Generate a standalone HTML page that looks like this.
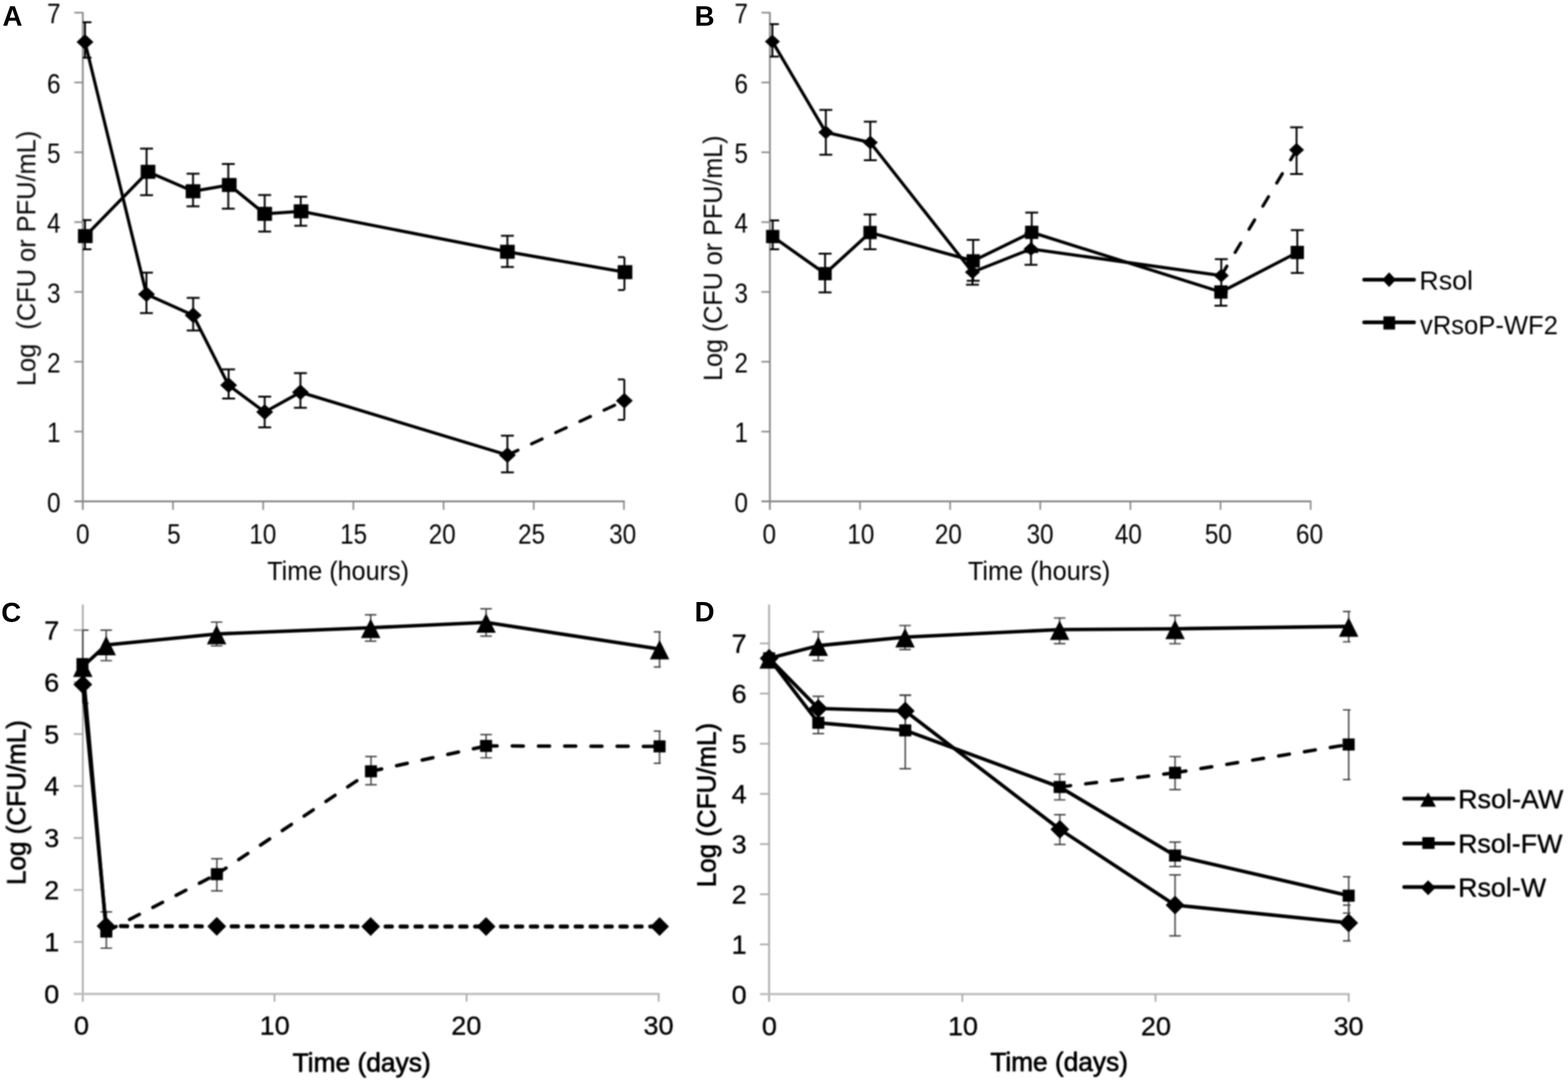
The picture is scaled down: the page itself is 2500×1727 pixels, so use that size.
<!DOCTYPE html>
<html><head><meta charset="utf-8"><title>Figure</title>
<style>
html,body{margin:0;padding:0;background:#fff;}
body{width:2500px;height:1727px;overflow:hidden;}
svg{display:block;font-family:"Liberation Sans",sans-serif;fill:#000;}
#fig{filter:blur(0.8px);}
</style></head><body>
<svg width="2500" height="1727" viewBox="0 0 2500 1727">
<rect x="0" y="0" width="2500" height="1727" fill="#fff"/>
<defs>
<clipPath id="cA"><rect x="132" y="0" width="863.5" height="820"/></clipPath>
<clipPath id="cB"><rect x="1227.5" y="0" width="862.5" height="820"/></clipPath>
<clipPath id="cC"><rect x="132" y="940" width="921.5" height="660"/></clipPath>
<clipPath id="cD"><rect x="1226.3" y="940" width="927" height="660"/></clipPath>
</defs>
<g id="fig">

<g>
<line x1="132.00" y1="19.00" x2="132.00" y2="813.00" stroke="#878787" stroke-width="2.80" />
<line x1="118.50" y1="799.50" x2="996.30" y2="799.50" stroke="#878787" stroke-width="2.80" />
<text transform="translate(96.50,816.80) scale(0.8800,1)" font-size="44.00" text-anchor="end">0</text>
<line x1="118.50" y1="688.17" x2="132.00" y2="688.17" stroke="#878787" stroke-width="2.50" />
<text transform="translate(96.50,705.47) scale(0.8800,1)" font-size="44.00" text-anchor="end">1</text>
<line x1="118.50" y1="576.84" x2="132.00" y2="576.84" stroke="#878787" stroke-width="2.50" />
<text transform="translate(96.50,594.14) scale(0.8800,1)" font-size="44.00" text-anchor="end">2</text>
<line x1="118.50" y1="465.51" x2="132.00" y2="465.51" stroke="#878787" stroke-width="2.50" />
<text transform="translate(96.50,482.81) scale(0.8800,1)" font-size="44.00" text-anchor="end">3</text>
<line x1="118.50" y1="354.18" x2="132.00" y2="354.18" stroke="#878787" stroke-width="2.50" />
<text transform="translate(96.50,371.48) scale(0.8800,1)" font-size="44.00" text-anchor="end">4</text>
<line x1="118.50" y1="242.85" x2="132.00" y2="242.85" stroke="#878787" stroke-width="2.50" />
<text transform="translate(96.50,260.15) scale(0.8800,1)" font-size="44.00" text-anchor="end">5</text>
<line x1="118.50" y1="131.52" x2="132.00" y2="131.52" stroke="#878787" stroke-width="2.50" />
<text transform="translate(96.50,148.82) scale(0.8800,1)" font-size="44.00" text-anchor="end">6</text>
<line x1="118.50" y1="20.19" x2="132.00" y2="20.19" stroke="#878787" stroke-width="2.50" />
<text transform="translate(96.50,37.49) scale(0.8800,1)" font-size="44.00" text-anchor="end">7</text>
<text transform="translate(132.00,866.80) scale(0.8800,1)" font-size="44.00" text-anchor="middle">0</text>
<line x1="275.80" y1="799.50" x2="275.80" y2="813.00" stroke="#878787" stroke-width="2.50" />
<text transform="translate(277.20,866.80) scale(0.8800,1)" font-size="44.00" text-anchor="middle">5</text>
<line x1="419.60" y1="799.50" x2="419.60" y2="813.00" stroke="#878787" stroke-width="2.50" />
<text transform="translate(419.00,866.80) scale(0.8800,1)" font-size="44.00" text-anchor="middle">10</text>
<line x1="563.40" y1="799.50" x2="563.40" y2="813.00" stroke="#878787" stroke-width="2.50" />
<text transform="translate(563.80,866.80) scale(0.8800,1)" font-size="44.00" text-anchor="middle">15</text>
<line x1="707.20" y1="799.50" x2="707.20" y2="813.00" stroke="#878787" stroke-width="2.50" />
<text transform="translate(705.00,866.80) scale(0.8800,1)" font-size="44.00" text-anchor="middle">20</text>
<line x1="851.00" y1="799.50" x2="851.00" y2="813.00" stroke="#878787" stroke-width="2.50" />
<text transform="translate(847.50,866.80) scale(0.8800,1)" font-size="44.00" text-anchor="middle">25</text>
<line x1="994.80" y1="799.50" x2="994.80" y2="813.00" stroke="#878787" stroke-width="2.50" />
<text transform="translate(992.70,866.80) scale(0.8800,1)" font-size="44.00" text-anchor="middle">30</text>
<text transform="translate(539.05,924.70) scale(0.9339,1)" font-size="43.00" text-anchor="middle">Time (hours)</text>
<text transform="translate(56.40,412.00) rotate(-90) scale(0.9421,1)" font-size="43.00" text-anchor="middle" style="white-space:pre">Log  (CFU or PFU/mL)</text>
</g>
<g>
<line x1="1227.50" y1="19.00" x2="1227.50" y2="813.00" stroke="#878787" stroke-width="2.80" />
<line x1="1214.00" y1="799.50" x2="2091.00" y2="799.50" stroke="#878787" stroke-width="2.80" />
<text transform="translate(1192.50,816.80) scale(0.8800,1)" font-size="44.00" text-anchor="end">0</text>
<line x1="1214.00" y1="688.17" x2="1227.50" y2="688.17" stroke="#878787" stroke-width="2.50" />
<text transform="translate(1192.50,705.47) scale(0.8800,1)" font-size="44.00" text-anchor="end">1</text>
<line x1="1214.00" y1="576.84" x2="1227.50" y2="576.84" stroke="#878787" stroke-width="2.50" />
<text transform="translate(1192.50,594.14) scale(0.8800,1)" font-size="44.00" text-anchor="end">2</text>
<line x1="1214.00" y1="465.51" x2="1227.50" y2="465.51" stroke="#878787" stroke-width="2.50" />
<text transform="translate(1192.50,482.81) scale(0.8800,1)" font-size="44.00" text-anchor="end">3</text>
<line x1="1214.00" y1="354.18" x2="1227.50" y2="354.18" stroke="#878787" stroke-width="2.50" />
<text transform="translate(1192.50,371.48) scale(0.8800,1)" font-size="44.00" text-anchor="end">4</text>
<line x1="1214.00" y1="242.85" x2="1227.50" y2="242.85" stroke="#878787" stroke-width="2.50" />
<text transform="translate(1192.50,260.15) scale(0.8800,1)" font-size="44.00" text-anchor="end">5</text>
<line x1="1214.00" y1="131.52" x2="1227.50" y2="131.52" stroke="#878787" stroke-width="2.50" />
<text transform="translate(1192.50,148.82) scale(0.8800,1)" font-size="44.00" text-anchor="end">6</text>
<line x1="1214.00" y1="20.19" x2="1227.50" y2="20.19" stroke="#878787" stroke-width="2.50" />
<text transform="translate(1192.50,37.49) scale(0.8800,1)" font-size="44.00" text-anchor="end">7</text>
<text transform="translate(1226.50,866.80) scale(0.8800,1)" font-size="44.00" text-anchor="middle">0</text>
<line x1="1371.20" y1="799.50" x2="1371.20" y2="813.00" stroke="#878787" stroke-width="2.50" />
<text transform="translate(1372.60,866.80) scale(0.8800,1)" font-size="44.00" text-anchor="middle">10</text>
<line x1="1514.90" y1="799.50" x2="1514.90" y2="813.00" stroke="#878787" stroke-width="2.50" />
<text transform="translate(1512.00,866.80) scale(0.8800,1)" font-size="44.00" text-anchor="middle">20</text>
<line x1="1658.60" y1="799.50" x2="1658.60" y2="813.00" stroke="#878787" stroke-width="2.50" />
<text transform="translate(1658.30,866.80) scale(0.8800,1)" font-size="44.00" text-anchor="middle">30</text>
<line x1="1802.30" y1="799.50" x2="1802.30" y2="813.00" stroke="#878787" stroke-width="2.50" />
<text transform="translate(1799.00,866.80) scale(0.8800,1)" font-size="44.00" text-anchor="middle">40</text>
<line x1="1946.00" y1="799.50" x2="1946.00" y2="813.00" stroke="#878787" stroke-width="2.50" />
<text transform="translate(1942.50,866.80) scale(0.8800,1)" font-size="44.00" text-anchor="middle">50</text>
<line x1="2089.70" y1="799.50" x2="2089.70" y2="813.00" stroke="#878787" stroke-width="2.50" />
<text transform="translate(2087.90,866.80) scale(0.8800,1)" font-size="44.00" text-anchor="middle">60</text>
<text transform="translate(1656.65,925.40) scale(0.9380,1)" font-size="43.00" text-anchor="middle">Time (hours)</text>
<text transform="translate(1151.10,411.75) rotate(-90) scale(0.9310,1)" font-size="43.00" text-anchor="middle">Log (CFU or PFU/mL)</text>
</g>
<g>
<path d="M135.50 35.50V92.00" fill="none" stroke="#000" stroke-width="3.00"/>
<path d="M125.20 35.50H145.80M125.20 92.00H145.80" fill="none" stroke="#000" stroke-width="3.00" clip-path="url(#cA)"/>
<path d="M233.50 434.70V499.30" fill="none" stroke="#000" stroke-width="3.00"/>
<path d="M223.20 434.70H243.80M223.20 499.30H243.80" fill="none" stroke="#000" stroke-width="3.00" clip-path="url(#cA)"/>
<path d="M308.00 475.00V526.90" fill="none" stroke="#000" stroke-width="3.00"/>
<path d="M297.70 475.00H318.30M297.70 526.90H318.30" fill="none" stroke="#000" stroke-width="3.00" clip-path="url(#cA)"/>
<path d="M364.50 588.90V635.40" fill="none" stroke="#000" stroke-width="3.00"/>
<path d="M354.20 588.90H374.80M354.20 635.40H374.80" fill="none" stroke="#000" stroke-width="3.00" clip-path="url(#cA)"/>
<path d="M422.00 632.60V681.40" fill="none" stroke="#000" stroke-width="3.00"/>
<path d="M411.70 632.60H432.30M411.70 681.40H432.30" fill="none" stroke="#000" stroke-width="3.00" clip-path="url(#cA)"/>
<path d="M479.00 595.10V650.30" fill="none" stroke="#000" stroke-width="3.00"/>
<path d="M468.70 595.10H489.30M468.70 650.30H489.30" fill="none" stroke="#000" stroke-width="3.00" clip-path="url(#cA)"/>
<path d="M809.00 694.80V753.30" fill="none" stroke="#000" stroke-width="3.00"/>
<path d="M798.70 694.80H819.30M798.70 753.30H819.30" fill="none" stroke="#000" stroke-width="3.00" clip-path="url(#cA)"/>
<path d="M995.40 605.00V669.50" fill="none" stroke="#000" stroke-width="3.00"/>
<path d="M985.10 605.00H1005.70M985.10 669.50H1005.70" fill="none" stroke="#000" stroke-width="3.00" clip-path="url(#cA)"/>
<path d="M135.50 351.00V397.50" fill="none" stroke="#000" stroke-width="3.00"/>
<path d="M125.20 351.00H145.80M125.20 397.50H145.80" fill="none" stroke="#000" stroke-width="3.00" clip-path="url(#cA)"/>
<path d="M233.70 237.00V311.20" fill="none" stroke="#000" stroke-width="3.00"/>
<path d="M223.40 237.00H244.00M223.40 311.20H244.00" fill="none" stroke="#000" stroke-width="3.00" clip-path="url(#cA)"/>
<path d="M307.80 277.10V329.00" fill="none" stroke="#000" stroke-width="3.00"/>
<path d="M297.50 277.10H318.10M297.50 329.00H318.10" fill="none" stroke="#000" stroke-width="3.00" clip-path="url(#cA)"/>
<path d="M364.00 261.60V332.70" fill="none" stroke="#000" stroke-width="3.00"/>
<path d="M353.70 261.60H374.30M353.70 332.70H374.30" fill="none" stroke="#000" stroke-width="3.00" clip-path="url(#cA)"/>
<path d="M422.00 311.00V369.30" fill="none" stroke="#000" stroke-width="3.00"/>
<path d="M411.70 311.00H432.30M411.70 369.30H432.30" fill="none" stroke="#000" stroke-width="3.00" clip-path="url(#cA)"/>
<path d="M479.50 313.80V360.00" fill="none" stroke="#000" stroke-width="3.00"/>
<path d="M469.20 313.80H489.80M469.20 360.00H489.80" fill="none" stroke="#000" stroke-width="3.00" clip-path="url(#cA)"/>
<path d="M809.00 376.00V425.80" fill="none" stroke="#000" stroke-width="3.00"/>
<path d="M798.70 376.00H819.30M798.70 425.80H819.30" fill="none" stroke="#000" stroke-width="3.00" clip-path="url(#cA)"/>
<path d="M995.60 410.00V462.40" fill="none" stroke="#000" stroke-width="3.00"/>
<path d="M985.30 410.00H1005.90M985.30 462.40H1005.90" fill="none" stroke="#000" stroke-width="3.00" clip-path="url(#cA)"/>
<polyline points="135.50,67.00 233.50,469.20 308.00,502.80 364.50,614.30 422.00,657.10 479.00,625.50 809.00,725.70" fill="none" stroke="#000" stroke-width="5.00" stroke-linejoin="round" stroke-linecap="butt"/>
<polyline points="809.00,725.70 995.40,639.00" fill="none" stroke="#000" stroke-width="5.00" stroke-linejoin="round" stroke-linecap="round" stroke-dasharray="18.5 24"/>
<polyline points="136.00,376.50 236.00,274.00 307.80,305.00 365.50,295.00 422.00,341.00 480.00,337.00 809.00,401.50 996.50,434.00" fill="none" stroke="#000" stroke-width="5.00" stroke-linejoin="round" stroke-linecap="butt"/>
<polygon points="135.50,54.50 149.00,67.00 135.50,79.50 122.00,67.00"/>
<polygon points="233.50,456.70 247.00,469.20 233.50,481.70 220.00,469.20"/>
<polygon points="308.00,490.30 321.50,502.80 308.00,515.30 294.50,502.80"/>
<polygon points="364.50,601.80 378.00,614.30 364.50,626.80 351.00,614.30"/>
<polygon points="422.00,644.60 435.50,657.10 422.00,669.60 408.50,657.10"/>
<polygon points="479.00,613.00 492.50,625.50 479.00,638.00 465.50,625.50"/>
<polygon points="809.00,713.20 822.50,725.70 809.00,738.20 795.50,725.70"/>
<polygon points="995.40,626.50 1008.90,639.00 995.40,651.50 981.90,639.00"/>
<rect x="124.30" y="365.30" width="23.40" height="22.40"/>
<rect x="224.30" y="262.80" width="23.40" height="22.40"/>
<rect x="296.10" y="293.80" width="23.40" height="22.40"/>
<rect x="353.80" y="283.80" width="23.40" height="22.40"/>
<rect x="410.30" y="329.80" width="23.40" height="22.40"/>
<rect x="468.30" y="325.80" width="23.40" height="22.40"/>
<rect x="797.30" y="390.30" width="23.40" height="22.40"/>
<rect x="984.80" y="422.80" width="23.40" height="22.40"/>
</g>
<g>
<path d="M1231.50 38.60V90.20" fill="none" stroke="#000" stroke-width="3.00"/>
<path d="M1221.20 38.60H1241.80M1221.20 90.20H1241.80" fill="none" stroke="#000" stroke-width="3.00" clip-path="url(#cB)"/>
<path d="M1316.70 175.20V246.80" fill="none" stroke="#000" stroke-width="3.00"/>
<path d="M1306.40 175.20H1327.00M1306.40 246.80H1327.00" fill="none" stroke="#000" stroke-width="3.00" clip-path="url(#cB)"/>
<path d="M1387.60 194.00V255.60" fill="none" stroke="#000" stroke-width="3.00"/>
<path d="M1377.30 194.00H1397.90M1377.30 255.60H1397.90" fill="none" stroke="#000" stroke-width="3.00" clip-path="url(#cB)"/>
<path d="M1550.50 414.00V454.00" fill="none" stroke="#000" stroke-width="3.00"/>
<path d="M1540.20 414.00H1560.80M1540.20 454.00H1560.80" fill="none" stroke="#000" stroke-width="3.00" clip-path="url(#cB)"/>
<path d="M1643.80 371.70V422.30" fill="none" stroke="#000" stroke-width="3.00"/>
<path d="M1633.50 371.70H1654.10M1633.50 422.30H1654.10" fill="none" stroke="#000" stroke-width="3.00" clip-path="url(#cB)"/>
<path d="M1947.20 413.20V465.60" fill="none" stroke="#000" stroke-width="3.00"/>
<path d="M1936.90 413.20H1957.50M1936.90 465.60H1957.50" fill="none" stroke="#000" stroke-width="3.00" clip-path="url(#cB)"/>
<path d="M2067.20 203.00V277.40" fill="none" stroke="#000" stroke-width="3.00"/>
<path d="M2056.90 203.00H2077.50M2056.90 277.40H2077.50" fill="none" stroke="#000" stroke-width="3.00" clip-path="url(#cB)"/>
<path d="M1232.00 351.60V397.50" fill="none" stroke="#000" stroke-width="3.00"/>
<path d="M1221.70 351.60H1242.30M1221.70 397.50H1242.30" fill="none" stroke="#000" stroke-width="3.00" clip-path="url(#cB)"/>
<path d="M1315.50 404.40V466.20" fill="none" stroke="#000" stroke-width="3.00"/>
<path d="M1305.20 404.40H1325.80M1305.20 466.20H1325.80" fill="none" stroke="#000" stroke-width="3.00" clip-path="url(#cB)"/>
<path d="M1387.20 342.00V397.60" fill="none" stroke="#000" stroke-width="3.00"/>
<path d="M1376.90 342.00H1397.50M1376.90 397.60H1397.50" fill="none" stroke="#000" stroke-width="3.00" clip-path="url(#cB)"/>
<path d="M1551.60 382.40V447.70" fill="none" stroke="#000" stroke-width="3.00"/>
<path d="M1541.30 382.40H1561.90M1541.30 447.70H1561.90" fill="none" stroke="#000" stroke-width="3.00" clip-path="url(#cB)"/>
<path d="M1645.00 339.00V402.00" fill="none" stroke="#000" stroke-width="3.00"/>
<path d="M1634.70 339.00H1655.30M1634.70 402.00H1655.30" fill="none" stroke="#000" stroke-width="3.00" clip-path="url(#cB)"/>
<path d="M1946.60 457.00V487.60" fill="none" stroke="#000" stroke-width="3.00"/>
<path d="M1936.30 457.00H1956.90M1936.30 487.60H1956.90" fill="none" stroke="#000" stroke-width="3.00" clip-path="url(#cB)"/>
<path d="M2068.40 367.00V435.30" fill="none" stroke="#000" stroke-width="3.00"/>
<path d="M2058.10 367.00H2078.70M2058.10 435.30H2078.70" fill="none" stroke="#000" stroke-width="3.00" clip-path="url(#cB)"/>
<polyline points="1231.50,66.30 1316.70,211.00 1387.60,227.30 1550.50,434.00 1643.80,397.00 1947.20,439.40" fill="none" stroke="#000" stroke-width="5.00" stroke-linejoin="round" stroke-linecap="butt"/>
<polyline points="1947.20,439.40 2067.20,239.10" fill="none" stroke="#000" stroke-width="5.00" stroke-linejoin="round" stroke-linecap="round" stroke-dasharray="17.5 25.5"/>
<polyline points="1232.00,377.20 1315.50,436.40 1387.20,370.80 1551.60,416.00 1645.00,370.50 1946.60,465.70 2068.40,402.60" fill="none" stroke="#000" stroke-width="5.00" stroke-linejoin="round" stroke-linecap="butt"/>
<polygon points="1231.50,55.30 1243.50,66.30 1231.50,77.30 1219.50,66.30"/>
<polygon points="1316.70,200.00 1328.70,211.00 1316.70,222.00 1304.70,211.00"/>
<polygon points="1387.60,216.30 1399.60,227.30 1387.60,238.30 1375.60,227.30"/>
<polygon points="1550.50,423.00 1562.50,434.00 1550.50,445.00 1538.50,434.00"/>
<polygon points="1643.80,386.00 1655.80,397.00 1643.80,408.00 1631.80,397.00"/>
<polygon points="1947.20,428.40 1959.20,439.40 1947.20,450.40 1935.20,439.40"/>
<polygon points="2067.20,228.10 2079.20,239.10 2067.20,250.10 2055.20,239.10"/>
<rect x="1221.40" y="366.60" width="21.20" height="21.20"/>
<rect x="1304.90" y="425.80" width="21.20" height="21.20"/>
<rect x="1376.60" y="360.20" width="21.20" height="21.20"/>
<rect x="1541.00" y="405.40" width="21.20" height="21.20"/>
<rect x="1634.40" y="359.90" width="21.20" height="21.20"/>
<rect x="1936.00" y="455.10" width="21.20" height="21.20"/>
<rect x="2057.80" y="392.00" width="21.20" height="21.20"/>
</g>
<g>
<line x1="2175.00" y1="446.00" x2="2254.50" y2="446.00" stroke="#000" stroke-width="6.00" stroke-linecap="round"/>
<polygon points="2214.80,434.30 2225.80,446.00 2214.80,457.70 2203.80,446.00"/>
<text transform="translate(2263.00,461.50) scale(0.9951,1)" font-size="43.00" text-anchor="start">Rsol</text>
<line x1="2175.00" y1="514.00" x2="2254.50" y2="514.00" stroke="#000" stroke-width="6.00" stroke-linecap="round"/>
<rect x="2205.70" y="504.50" width="18.60" height="21.00"/>
<text transform="translate(2264.00,532.50) scale(0.9494,1)" font-size="43.00" text-anchor="start">vRsoP-WF2</text>
</g>
<g>
<line x1="132.00" y1="964.00" x2="132.00" y2="1597.30" stroke="#a6a6a6" stroke-width="2.70" />
<line x1="117.50" y1="1585.00" x2="1051.50" y2="1585.00" stroke="#bdbdbd" stroke-width="3.40" />
<text transform="translate(94.50,1599.90)" font-size="43.00" text-anchor="end" stroke="#000" stroke-width="0.50" stroke-linejoin="round">0</text>
<line x1="117.50" y1="1502.03" x2="132.00" y2="1502.03" stroke="#a6a6a6" stroke-width="2.60" />
<text transform="translate(94.50,1517.03)" font-size="43.00" text-anchor="end" stroke="#000" stroke-width="0.50" stroke-linejoin="round">1</text>
<line x1="117.50" y1="1419.16" x2="132.00" y2="1419.16" stroke="#a6a6a6" stroke-width="2.60" />
<text transform="translate(94.50,1434.16)" font-size="43.00" text-anchor="end" stroke="#000" stroke-width="0.50" stroke-linejoin="round">2</text>
<line x1="117.50" y1="1336.29" x2="132.00" y2="1336.29" stroke="#a6a6a6" stroke-width="2.60" />
<text transform="translate(94.50,1351.29)" font-size="43.00" text-anchor="end" stroke="#000" stroke-width="0.50" stroke-linejoin="round">3</text>
<line x1="117.50" y1="1253.42" x2="132.00" y2="1253.42" stroke="#a6a6a6" stroke-width="2.60" />
<text transform="translate(94.50,1268.42)" font-size="43.00" text-anchor="end" stroke="#000" stroke-width="0.50" stroke-linejoin="round">4</text>
<line x1="117.50" y1="1170.55" x2="132.00" y2="1170.55" stroke="#a6a6a6" stroke-width="2.60" />
<text transform="translate(94.50,1185.55)" font-size="43.00" text-anchor="end" stroke="#000" stroke-width="0.50" stroke-linejoin="round">5</text>
<line x1="117.50" y1="1087.68" x2="132.00" y2="1087.68" stroke="#a6a6a6" stroke-width="2.60" />
<text transform="translate(94.50,1102.68)" font-size="43.00" text-anchor="end" stroke="#000" stroke-width="0.50" stroke-linejoin="round">6</text>
<line x1="117.50" y1="1004.81" x2="132.00" y2="1004.81" stroke="#a6a6a6" stroke-width="2.60" />
<text transform="translate(94.50,1019.81)" font-size="43.00" text-anchor="end" stroke="#000" stroke-width="0.50" stroke-linejoin="round">7</text>
<text transform="translate(130.00,1650.00)" font-size="43.00" text-anchor="middle" stroke="#000" stroke-width="0.50" stroke-linejoin="round">0</text>
<line x1="437.70" y1="1585.00" x2="437.70" y2="1597.30" stroke="#a6a6a6" stroke-width="2.60" />
<text transform="translate(438.00,1650.00)" font-size="43.00" text-anchor="middle" stroke="#000" stroke-width="0.50" stroke-linejoin="round">10</text>
<line x1="743.90" y1="1585.00" x2="743.90" y2="1597.30" stroke="#a6a6a6" stroke-width="2.60" />
<text transform="translate(743.50,1650.00)" font-size="43.00" text-anchor="middle" stroke="#000" stroke-width="0.50" stroke-linejoin="round">20</text>
<line x1="1050.10" y1="1585.00" x2="1050.10" y2="1597.30" stroke="#a6a6a6" stroke-width="2.60" />
<text transform="translate(1050.00,1650.00)" font-size="43.00" text-anchor="middle" stroke="#000" stroke-width="0.50" stroke-linejoin="round">30</text>
<text transform="translate(576.60,1708.60) scale(0.9885,1)" font-size="42.50" text-anchor="middle" stroke="#000" stroke-width="1.10" stroke-linejoin="round">Time (days)</text>
<text transform="translate(40.50,1279.75) rotate(-90) scale(0.9652,1)" font-size="43.00" text-anchor="middle" stroke="#000" stroke-width="1.10" stroke-linejoin="round">Log (CFU/mL)</text>
</g>
<g>
<line x1="1226.20" y1="964.00" x2="1226.20" y2="1597.50" stroke="#a6a6a6" stroke-width="2.70" />
<line x1="1211.70" y1="1585.20" x2="2151.80" y2="1585.20" stroke="#bdbdbd" stroke-width="3.40" />
<text transform="translate(1190.50,1600.60)" font-size="43.00" text-anchor="end" stroke="#000" stroke-width="0.50" stroke-linejoin="round">0</text>
<line x1="1211.70" y1="1506.00" x2="1226.20" y2="1506.00" stroke="#a6a6a6" stroke-width="2.60" />
<text transform="translate(1190.50,1520.60)" font-size="43.00" text-anchor="end" stroke="#000" stroke-width="0.50" stroke-linejoin="round">1</text>
<line x1="1211.70" y1="1426.00" x2="1226.20" y2="1426.00" stroke="#a6a6a6" stroke-width="2.60" />
<text transform="translate(1190.50,1440.60)" font-size="43.00" text-anchor="end" stroke="#000" stroke-width="0.50" stroke-linejoin="round">2</text>
<line x1="1211.70" y1="1346.00" x2="1226.20" y2="1346.00" stroke="#a6a6a6" stroke-width="2.60" />
<text transform="translate(1190.50,1360.60)" font-size="43.00" text-anchor="end" stroke="#000" stroke-width="0.50" stroke-linejoin="round">3</text>
<line x1="1211.70" y1="1266.00" x2="1226.20" y2="1266.00" stroke="#a6a6a6" stroke-width="2.60" />
<text transform="translate(1190.50,1280.60)" font-size="43.00" text-anchor="end" stroke="#000" stroke-width="0.50" stroke-linejoin="round">4</text>
<line x1="1211.70" y1="1186.00" x2="1226.20" y2="1186.00" stroke="#a6a6a6" stroke-width="2.60" />
<text transform="translate(1190.50,1200.60)" font-size="43.00" text-anchor="end" stroke="#000" stroke-width="0.50" stroke-linejoin="round">5</text>
<line x1="1211.70" y1="1106.00" x2="1226.20" y2="1106.00" stroke="#a6a6a6" stroke-width="2.60" />
<text transform="translate(1190.50,1120.60)" font-size="43.00" text-anchor="end" stroke="#000" stroke-width="0.50" stroke-linejoin="round">6</text>
<line x1="1211.70" y1="1026.00" x2="1226.20" y2="1026.00" stroke="#a6a6a6" stroke-width="2.60" />
<text transform="translate(1190.50,1040.60)" font-size="43.00" text-anchor="end" stroke="#000" stroke-width="0.50" stroke-linejoin="round">7</text>
<text transform="translate(1226.80,1650.50)" font-size="43.00" text-anchor="middle" stroke="#000" stroke-width="0.50" stroke-linejoin="round">0</text>
<line x1="1534.30" y1="1585.20" x2="1534.30" y2="1597.50" stroke="#a6a6a6" stroke-width="2.60" />
<text transform="translate(1535.30,1650.50)" font-size="43.00" text-anchor="middle" stroke="#000" stroke-width="0.50" stroke-linejoin="round">10</text>
<line x1="1842.30" y1="1585.20" x2="1842.30" y2="1597.50" stroke="#a6a6a6" stroke-width="2.60" />
<text transform="translate(1843.00,1650.50)" font-size="43.00" text-anchor="middle" stroke="#000" stroke-width="0.50" stroke-linejoin="round">20</text>
<line x1="2150.30" y1="1585.20" x2="2150.30" y2="1597.50" stroke="#a6a6a6" stroke-width="2.60" />
<text transform="translate(2150.10,1650.50)" font-size="43.00" text-anchor="middle" stroke="#000" stroke-width="0.50" stroke-linejoin="round">30</text>
<text transform="translate(1688.65,1708.00) scale(0.9854,1)" font-size="42.50" text-anchor="middle" stroke="#000" stroke-width="1.10" stroke-linejoin="round">Time (days)</text>
<text transform="translate(1140.60,1283.75) rotate(-90) scale(0.9615,1)" font-size="43.00" text-anchor="middle" stroke="#000" stroke-width="1.10" stroke-linejoin="round">Log (CFU/mL)</text>
</g>
<g>
<path d="M132.00 1004.80V1121.70" fill="none" stroke="#3a3a3a" stroke-width="2.20"/>
<path d="M122.80 1004.80H141.20M122.80 1121.70H141.20" fill="none" stroke="#3a3a3a" stroke-width="2.20" clip-path="url(#cC)"/>
<path d="M169.30 1004.80V1053.50" fill="none" stroke="#3a3a3a" stroke-width="2.20"/>
<path d="M160.10 1004.80H178.50M160.10 1053.50H178.50" fill="none" stroke="#3a3a3a" stroke-width="2.20" clip-path="url(#cC)"/>
<path d="M345.40 992.00V1030.00" fill="none" stroke="#3a3a3a" stroke-width="2.20"/>
<path d="M336.20 992.00H354.60M336.20 1030.00H354.60" fill="none" stroke="#3a3a3a" stroke-width="2.20" clip-path="url(#cC)"/>
<path d="M591.00 980.40V1022.40" fill="none" stroke="#3a3a3a" stroke-width="2.20"/>
<path d="M581.80 980.40H600.20M581.80 1022.40H600.20" fill="none" stroke="#3a3a3a" stroke-width="2.20" clip-path="url(#cC)"/>
<path d="M775.00 970.80V1014.30" fill="none" stroke="#3a3a3a" stroke-width="2.20"/>
<path d="M765.80 970.80H784.20M765.80 1014.30H784.20" fill="none" stroke="#3a3a3a" stroke-width="2.20" clip-path="url(#cC)"/>
<path d="M1051.60 1007.70V1063.70" fill="none" stroke="#3a3a3a" stroke-width="2.20"/>
<path d="M1042.40 1007.70H1060.80M1042.40 1063.70H1060.80" fill="none" stroke="#3a3a3a" stroke-width="2.20" clip-path="url(#cC)"/>
<path d="M169.50 1454.20V1512.00" fill="none" stroke="#3a3a3a" stroke-width="2.20"/>
<path d="M160.30 1454.20H178.70M160.30 1512.00H178.70" fill="none" stroke="#3a3a3a" stroke-width="2.20" clip-path="url(#cC)"/>
<path d="M345.80 1369.40V1420.70" fill="none" stroke="#3a3a3a" stroke-width="2.20"/>
<path d="M336.60 1369.40H355.00M336.60 1420.70H355.00" fill="none" stroke="#3a3a3a" stroke-width="2.20" clip-path="url(#cC)"/>
<path d="M591.50 1206.30V1251.40" fill="none" stroke="#3a3a3a" stroke-width="2.20"/>
<path d="M582.30 1206.30H600.70M582.30 1251.40H600.70" fill="none" stroke="#3a3a3a" stroke-width="2.20" clip-path="url(#cC)"/>
<path d="M775.00 1171.40V1208.50" fill="none" stroke="#3a3a3a" stroke-width="2.20"/>
<path d="M765.80 1171.40H784.20M765.80 1208.50H784.20" fill="none" stroke="#3a3a3a" stroke-width="2.20" clip-path="url(#cC)"/>
<path d="M1051.60 1165.80V1217.10" fill="none" stroke="#3a3a3a" stroke-width="2.20"/>
<path d="M1042.40 1165.80H1060.80M1042.40 1217.10H1060.80" fill="none" stroke="#3a3a3a" stroke-width="2.20" clip-path="url(#cC)"/>
<polyline points="132.00,1063.00 169.30,1028.50 345.40,1011.00 591.00,1001.00 775.00,992.50 1051.60,1035.00" fill="none" stroke="#000" stroke-width="5.60" stroke-linejoin="round" stroke-linecap="butt"/>
<polyline points="131.50,1059.00 169.50,1485.50" fill="none" stroke="#000" stroke-width="5.60" stroke-linejoin="round" stroke-linecap="butt"/>
<polyline points="169.50,1485.50 345.80,1394.00" fill="none" stroke="#000" stroke-width="5.50" stroke-linejoin="round" stroke-linecap="round" stroke-dasharray="17.5 24.3"/>
<polyline points="345.80,1394.00 591.50,1230.00" fill="none" stroke="#000" stroke-width="5.50" stroke-linejoin="round" stroke-linecap="round" stroke-dasharray="17.5 24.3"/>
<polyline points="591.50,1230.00 775.00,1189.50" fill="none" stroke="#000" stroke-width="5.50" stroke-linejoin="round" stroke-linecap="round" stroke-dasharray="17.5 24.3"/>
<polyline points="775.00,1189.50 1051.60,1190.20" fill="none" stroke="#000" stroke-width="5.50" stroke-linejoin="round" stroke-linecap="round" stroke-dasharray="17.5 24.3"/>
<polyline points="132.00,1091.50 169.00,1476.80" fill="none" stroke="#000" stroke-width="5.60" stroke-linejoin="round" stroke-linecap="butt"/>
<polyline points="169.00,1476.80 345.60,1477.20" fill="none" stroke="#000" stroke-width="6.50" stroke-linejoin="round" stroke-linecap="round" stroke-dasharray="10 13.8"/>
<polyline points="345.60,1477.20 591.00,1477.40" fill="none" stroke="#000" stroke-width="6.50" stroke-linejoin="round" stroke-linecap="round" stroke-dasharray="10 13.8"/>
<polyline points="591.00,1477.40 775.00,1477.40" fill="none" stroke="#000" stroke-width="6.50" stroke-linejoin="round" stroke-linecap="round" stroke-dasharray="10 13.8"/>
<polyline points="775.00,1477.40 1051.60,1477.40" fill="none" stroke="#000" stroke-width="6.50" stroke-linejoin="round" stroke-linecap="round" stroke-dasharray="10 13.8"/>
<polygon points="132.00,1048.50 147.50,1079.50 116.50,1079.50"/>
<polygon points="169.30,1014.00 184.80,1045.00 153.80,1045.00"/>
<polygon points="345.40,996.50 360.90,1027.50 329.90,1027.50"/>
<polygon points="591.00,986.50 606.50,1017.50 575.50,1017.50"/>
<polygon points="775.00,978.00 790.50,1009.00 759.50,1009.00"/>
<polygon points="1051.60,1020.50 1067.10,1051.50 1036.10,1051.50"/>
<polygon points="132.00,1076.50 147.00,1091.50 132.00,1106.50 117.00,1091.50"/>
<polygon points="169.00,1461.80 184.00,1476.80 169.00,1491.80 154.00,1476.80"/>
<polygon points="345.60,1462.20 360.60,1477.20 345.60,1492.20 330.60,1477.20"/>
<polygon points="591.00,1462.40 606.00,1477.40 591.00,1492.40 576.00,1477.40"/>
<polygon points="775.00,1462.40 790.00,1477.40 775.00,1492.40 760.00,1477.40"/>
<polygon points="1051.60,1462.40 1066.60,1477.40 1051.60,1492.40 1036.60,1477.40"/>
<rect x="121.90" y="1049.40" width="19.20" height="19.20"/>
<rect x="159.90" y="1475.90" width="19.20" height="19.20"/>
<rect x="336.20" y="1384.40" width="19.20" height="19.20"/>
<rect x="581.90" y="1220.40" width="19.20" height="19.20"/>
<rect x="765.40" y="1179.90" width="19.20" height="19.20"/>
<rect x="1042.00" y="1180.60" width="19.20" height="19.20"/>
</g>
<g>
<path d="M1304.70 1007.50V1053.30" fill="none" stroke="#3a3a3a" stroke-width="2.20"/>
<path d="M1295.50 1007.50H1313.90M1295.50 1053.30H1313.90" fill="none" stroke="#3a3a3a" stroke-width="2.20" clip-path="url(#cD)"/>
<path d="M1443.00 997.50V1035.80" fill="none" stroke="#3a3a3a" stroke-width="2.20"/>
<path d="M1433.80 997.50H1452.20M1433.80 1035.80H1452.20" fill="none" stroke="#3a3a3a" stroke-width="2.20" clip-path="url(#cD)"/>
<path d="M1689.50 985.50V1026.30" fill="none" stroke="#3a3a3a" stroke-width="2.20"/>
<path d="M1680.30 985.50H1698.70M1680.30 1026.30H1698.70" fill="none" stroke="#3a3a3a" stroke-width="2.20" clip-path="url(#cD)"/>
<path d="M1873.50 981.40V1026.50" fill="none" stroke="#3a3a3a" stroke-width="2.20"/>
<path d="M1864.30 981.40H1882.70M1864.30 1026.50H1882.70" fill="none" stroke="#3a3a3a" stroke-width="2.20" clip-path="url(#cD)"/>
<path d="M2150.30 975.10V1023.50" fill="none" stroke="#3a3a3a" stroke-width="2.20"/>
<path d="M2141.10 975.10H2159.50M2141.10 1023.50H2159.50" fill="none" stroke="#3a3a3a" stroke-width="2.20" clip-path="url(#cD)"/>
<path d="M1304.70 1110.40V1149.00" fill="none" stroke="#3a3a3a" stroke-width="2.20"/>
<path d="M1295.50 1110.40H1313.90M1295.50 1149.00H1313.90" fill="none" stroke="#3a3a3a" stroke-width="2.20" clip-path="url(#cD)"/>
<path d="M1443.30 1108.60V1159.00" fill="none" stroke="#3a3a3a" stroke-width="2.20"/>
<path d="M1434.10 1108.60H1452.50M1434.10 1159.00H1452.50" fill="none" stroke="#3a3a3a" stroke-width="2.20" clip-path="url(#cD)"/>
<path d="M1689.80 1299.20V1346.70" fill="none" stroke="#3a3a3a" stroke-width="2.20"/>
<path d="M1680.60 1299.20H1699.00M1680.60 1346.70H1699.00" fill="none" stroke="#3a3a3a" stroke-width="2.20" clip-path="url(#cD)"/>
<path d="M1873.50 1395.10V1492.30" fill="none" stroke="#3a3a3a" stroke-width="2.20"/>
<path d="M1864.30 1395.10H1882.70M1864.30 1492.30H1882.70" fill="none" stroke="#3a3a3a" stroke-width="2.20" clip-path="url(#cD)"/>
<path d="M2150.30 1443.30V1500.30" fill="none" stroke="#3a3a3a" stroke-width="2.20"/>
<path d="M2141.10 1443.30H2159.50M2141.10 1500.30H2159.50" fill="none" stroke="#3a3a3a" stroke-width="2.20" clip-path="url(#cD)"/>
<path d="M1304.70 1135.00V1169.80" fill="none" stroke="#3a3a3a" stroke-width="2.20"/>
<path d="M1295.50 1135.00H1313.90M1295.50 1169.80H1313.90" fill="none" stroke="#3a3a3a" stroke-width="2.20" clip-path="url(#cD)"/>
<path d="M1443.30 1108.60V1225.80" fill="none" stroke="#3a3a3a" stroke-width="2.20"/>
<path d="M1434.10 1108.60H1452.50M1434.10 1225.80H1452.50" fill="none" stroke="#3a3a3a" stroke-width="2.20" clip-path="url(#cD)"/>
<path d="M1689.50 1234.50V1275.50" fill="none" stroke="#3a3a3a" stroke-width="2.20"/>
<path d="M1680.30 1234.50H1698.70M1680.30 1275.50H1698.70" fill="none" stroke="#3a3a3a" stroke-width="2.20" clip-path="url(#cD)"/>
<path d="M1873.50 1342.90V1381.80" fill="none" stroke="#3a3a3a" stroke-width="2.20"/>
<path d="M1864.30 1342.90H1882.70M1864.30 1381.80H1882.70" fill="none" stroke="#3a3a3a" stroke-width="2.20" clip-path="url(#cD)"/>
<path d="M2150.30 1398.20V1456.00" fill="none" stroke="#3a3a3a" stroke-width="2.20"/>
<path d="M2141.10 1398.20H2159.50M2141.10 1456.00H2159.50" fill="none" stroke="#3a3a3a" stroke-width="2.20" clip-path="url(#cD)"/>
<path d="M1873.50 1206.50V1259.20" fill="none" stroke="#3a3a3a" stroke-width="2.20"/>
<path d="M1864.30 1206.50H1882.70M1864.30 1259.20H1882.70" fill="none" stroke="#3a3a3a" stroke-width="2.20" clip-path="url(#cD)"/>
<path d="M2150.30 1132.00V1243.10" fill="none" stroke="#3a3a3a" stroke-width="2.20"/>
<path d="M2141.10 1132.00H2159.50M2141.10 1243.10H2159.50" fill="none" stroke="#3a3a3a" stroke-width="2.20" clip-path="url(#cD)"/>
<polyline points="1226.30,1049.80 1304.70,1029.60 1443.00,1016.00 1689.50,1004.00 1873.50,1002.70 2150.30,998.90" fill="none" stroke="#000" stroke-width="5.60" stroke-linejoin="round" stroke-linecap="butt"/>
<polyline points="1226.30,1049.80 1304.70,1129.80 1443.30,1133.80 1689.80,1322.50 1873.50,1443.30 2150.30,1471.70" fill="none" stroke="#000" stroke-width="5.60" stroke-linejoin="round" stroke-linecap="butt"/>
<polyline points="1226.30,1049.80 1304.70,1152.60 1443.30,1164.70 1689.50,1255.00 1873.50,1364.30 2150.30,1428.30" fill="none" stroke="#000" stroke-width="5.60" stroke-linejoin="round" stroke-linecap="butt"/>
<polyline points="1689.50,1255.00 1873.50,1232.30" fill="none" stroke="#000" stroke-width="5.50" stroke-linejoin="round" stroke-linecap="round" stroke-dasharray="17.5 24.3"/>
<polyline points="1873.50,1232.30 2150.30,1187.20" fill="none" stroke="#000" stroke-width="5.50" stroke-linejoin="round" stroke-linecap="round" stroke-dasharray="17.5 24.3"/>
<polygon points="1226.30,1035.30 1241.80,1066.30 1210.80,1066.30"/>
<polygon points="1304.70,1015.10 1320.20,1046.10 1289.20,1046.10"/>
<polygon points="1443.00,1001.50 1458.50,1032.50 1427.50,1032.50"/>
<polygon points="1689.50,989.50 1705.00,1020.50 1674.00,1020.50"/>
<polygon points="1873.50,988.20 1889.00,1019.20 1858.00,1019.20"/>
<polygon points="2150.30,984.40 2165.80,1015.40 2134.80,1015.40"/>
<polygon points="1226.30,1034.80 1241.30,1049.80 1226.30,1064.80 1211.30,1049.80"/>
<polygon points="1304.70,1114.80 1319.70,1129.80 1304.70,1144.80 1289.70,1129.80"/>
<polygon points="1443.30,1118.80 1458.30,1133.80 1443.30,1148.80 1428.30,1133.80"/>
<polygon points="1689.80,1307.50 1704.80,1322.50 1689.80,1337.50 1674.80,1322.50"/>
<polygon points="1873.50,1428.30 1888.50,1443.30 1873.50,1458.30 1858.50,1443.30"/>
<polygon points="2150.30,1456.70 2165.30,1471.70 2150.30,1486.70 2135.30,1471.70"/>
<rect x="1216.70" y="1040.20" width="19.20" height="19.20"/>
<rect x="1295.10" y="1143.00" width="19.20" height="19.20"/>
<rect x="1433.70" y="1155.10" width="19.20" height="19.20"/>
<rect x="1679.90" y="1245.40" width="19.20" height="19.20"/>
<rect x="1863.90" y="1354.70" width="19.20" height="19.20"/>
<rect x="2140.70" y="1418.70" width="19.20" height="19.20"/>
<rect x="1863.90" y="1222.70" width="19.20" height="19.20"/>
<rect x="2140.70" y="1177.60" width="19.20" height="19.20"/>
</g>
<g>
<line x1="2238.80" y1="1273.60" x2="2317.20" y2="1273.60" stroke="#000" stroke-width="6.00" stroke-linecap="round"/>
<line x1="2238.80" y1="1345.10" x2="2317.20" y2="1345.10" stroke="#000" stroke-width="6.00" stroke-linecap="round"/>
<line x1="2238.80" y1="1414.60" x2="2317.20" y2="1414.60" stroke="#000" stroke-width="6.00" stroke-linecap="round"/>
<polygon points="2277.00,1263.60 2289.50,1286.40 2264.50,1286.40"/>
<rect x="2267.70" y="1335.00" width="19.60" height="18.80"/>
<polygon points="2277.00,1403.80 2288.80,1415.60 2277.00,1427.40 2265.20,1415.60"/>
<text transform="translate(2324.70,1288.70) scale(1.0093,1)" font-size="42.60" text-anchor="start" stroke="#000" stroke-width="0.60" stroke-linejoin="round">Rsol-AW</text>
<text transform="translate(2324.70,1359.70) scale(1.0052,1)" font-size="42.60" text-anchor="start" stroke="#000" stroke-width="0.60" stroke-linejoin="round">Rsol-FW</text>
<text transform="translate(2324.70,1429.70) scale(1.0063,1)" font-size="42.60" text-anchor="start" stroke="#000" stroke-width="0.60" stroke-linejoin="round">Rsol-W</text>
</g>
</g>
<g>
<text transform="translate(4.00,40.80)" font-size="44.00" text-anchor="start" font-weight="bold">A</text>
<text transform="translate(1107.50,40.80)" font-size="44.00" text-anchor="start" font-weight="bold">B</text>
<text transform="translate(2.00,992.00)" font-size="44.00" text-anchor="start" font-weight="bold">C</text>
<text transform="translate(1107.50,990.80)" font-size="44.00" text-anchor="start" font-weight="bold">D</text>
</g>
</svg>
</body></html>
